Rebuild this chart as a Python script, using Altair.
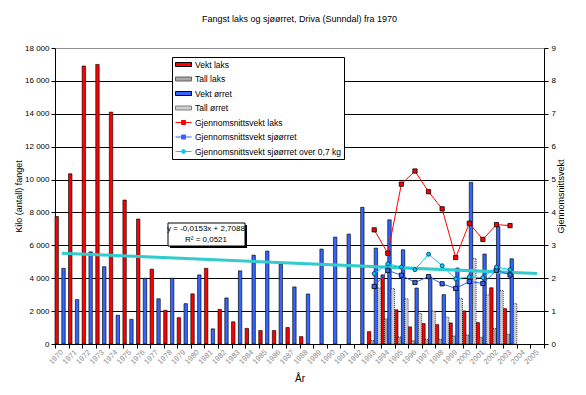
import altair as alt
import pandas as pd

FONT = "Liberation Sans"

years = list(range(1970, 2006))
vekt_laks = [7750, 10350, 16900, 17000, 14100, 8750, 7600, 4550, 2050, 1600,
             3050, 4600, 2100, 1350, 950, 820, 820, 1000, 450, None,
             None, None, None, 750, 4200, 2080, 1040, 1240, 1180, 1280,
             2010, 1300, 3420, 2150, None, None]
vekt_orret = [4600, 2700, 5600, 4700, 1750, 1500, 4000, 2750, 4000, 2450,
              4200, 920, 2800, 4450, 5400, 5650, 4860, 3470, 3040, 5770,
              6500, 6680, 8310, 5830, 7550, 5730, 3400, 4070, 3000, 4620,
              9830, 5470, 7140, 5180, None, None]
tall_years = list(range(1993, 2004))
tall_laks = [210, 1530, 430, 200, 270, 290, 490, 550, 410, 940, 600]
tall_orret = [3400, 3380, 2750, 1850, 2000, 1630, 2780, 5200, 2980, 3250, 2460]
snitt_laks = [3.47, 2.76, 4.86, 5.26, 4.63, 4.11, 2.63, 3.67, 3.18, 3.63, 3.60]
snitt_orret = [1.75, 2.24, 2.09, 1.87, 2.05, 1.83, 1.69, 1.90, 1.84, 2.24, 2.10]
snitt_orret_07 = [2.14, 2.44, 2.34, 2.26, 2.73, 2.38, 1.98, 2.04, 2.02, 2.34, 2.26]

bar_series = ["Vekt laks", "Tall laks", "Vekt ørret", "Tall ørret"]
line_series = ["Gjennomsnittsvekt laks", "Gjennomsnittsvekt sjøørret",
               "Gjennomsnittsvekt sjøørret over 0,7 kg"]
all_series = bar_series + line_series
bar_colors = ["#ff0000", "#a8a8a8", "#3366ff", "#cfcfcf"]
line_colors = ["#ff0000", "#3366ff", "#00ccff"]
fill_colors = bar_colors + line_colors
stroke_colors = ["#000000", "#606060", "#000000", "#808080", "#ff0000", "#3366ff", "#00ccff"]
legend_shapes = [
    "M-1,-0.5H3V0.5H-1Z",
    "M-1,-0.5H3V0.5H-1Z",
    "M-1,-0.5H3V0.5H-1Z",
    "M-1,-0.5H3V0.5H-1Z",
    "M-1,0H3M0.5,-0.5H1.5V0.5H0.5Z",
    "M-1,0H3M0.5,-0.5H1.5V0.5H0.5Z",
    "M-1,0H3M0.5,0A0.5,0.5,0,1,1,1.5,0A0.5,0.5,0,1,1,0.5,0Z",
]
equation_lines = ["y = -0,0153x + 2,7088", "R² = 0,0521"]

# ---- tables ----
bar_rows = []
for y, v in zip(years, vekt_laks):
    if v is not None:
        bar_rows.append({"year": y, "series": "Vekt laks", "value": v})
for y, v in zip(tall_years, tall_laks):
    bar_rows.append({"year": y, "series": "Tall laks", "value": v})
for y, v in zip(years, vekt_orret):
    if v is not None:
        bar_rows.append({"year": y, "series": "Vekt ørret", "value": v})
for y, v in zip(tall_years, tall_orret):
    bar_rows.append({"year": y, "series": "Tall ørret", "value": v})
bars_df = pd.DataFrame(bar_rows)

line_rows = []
for name, vals in zip(line_series, [snitt_laks, snitt_orret, snitt_orret_07]):
    for y, v in zip(tall_years, vals):
        line_rows.append({"year": y, "series": name, "value": v})
line_df = pd.DataFrame(line_rows)

# colour scale for the marks: domain ordered differently from the legend's scales
# so that Vega-Lite does not merge the (hidden) colour legend with the visible one
color_scale = alt.Scale(domain=line_series + bar_series, range=line_colors + bar_colors)
idx_scale = alt.Scale(domain=[0.5, 36.5], nice=False, zero=False)
right_scale = alt.Scale(domain=[0, 9], nice=False)

# ---- bars ----
bars = alt.Chart(bars_df).mark_bar(stroke="black", strokeWidth=0.7).encode(
    x=alt.X("year:O", scale=alt.Scale(domain=years, paddingInner=0, paddingOuter=0),
            title="År",
            axis=alt.Axis(labelAngle=315, labelAlign="right", labelBaseline="middle",
                          labelColor="#8c8c8c", labelFontSize=7.5, labelPadding=3,
                          tickBand="extent", tickSize=4, tickColor="black",
                          domainColor="black", titleFontSize=10, titleFontWeight="normal",
                          titlePadding=8, grid=False)),
    xOffset=alt.XOffset("series:N", scale=alt.Scale(domain=bar_series, paddingInner=0, paddingOuter=0)),
    y=alt.Y("value:Q", scale=alt.Scale(domain=[0, 18000], nice=False),
            title="Kilo (antall) fanget",
            axis=alt.Axis(orient="left", values=list(range(0, 18001, 2000)),
                          labelExpr="replace(format(datum.value, ','), ',', ' ')",
                          grid=True,
                          gridColor={"condition": {"test": "datum.value === 18000", "value": "#909090"}, "value": "black"},
                          gridWidth=1, tickSize=4, tickColor="black", domainColor="black",
                          labelFontSize=8, labelPadding=2, titleFontSize=9,
                          titleFontWeight="normal", titlePadding=1)),
    color=alt.Color("series:N", scale=color_scale, legend=None),
    strokeDash=alt.condition("indexof(datum.series, 'Tall') === 0", alt.value([1, 1]), alt.value([1, 0])),
)

# ---- trend (linear regression of the >0,7 kg series, extended over all years) ----
trend = alt.Chart(line_df).transform_filter(
    alt.datum.series == line_series[2]
).transform_calculate(
    idx="datum.year - 1969"
).transform_regression(
    "idx", "value", method="linear", extent=[1, 36]
).mark_line(color="#33cccc", strokeWidth=3).encode(
    x=alt.X("idx:Q", scale=idx_scale, axis=None),
    y=alt.Y("value:Q", scale=right_scale, axis=None),
)

# ---- lines ----
lines = alt.Chart(line_df).transform_calculate(
    idx="datum.year - 1969"
).mark_line(strokeWidth=1).encode(
    x=alt.X("idx:Q", scale=idx_scale, axis=None),
    y=alt.Y("value:Q", scale=right_scale, title="Gjennomsnittsvekt",
            axis=alt.Axis(orient="right", values=list(range(10)), grid=False,
                          tickSize=4, tickColor="black", domainColor="black",
                          labelFontSize=8, labelPadding=3, titleFontSize=9,
                          titleFontWeight="normal", titleAngle=270, titlePadding=10)),
    color=alt.Color("series:N", scale=color_scale, legend=None),
)

pts_sq = alt.Chart(line_df).transform_filter(
    alt.FieldOneOfPredicate(field="series", oneOf=line_series[:2])
).transform_calculate(
    idx="datum.year - 1969"
).mark_point(shape="square", filled=True, size=18, stroke="black", strokeWidth=0.8, opacity=1).encode(
    x=alt.X("idx:Q", scale=idx_scale, axis=None),
    y=alt.Y("value:Q", scale=right_scale, axis=None),
    color=alt.Color("series:N", scale=color_scale, legend=None),
)

pts_ci = alt.Chart(line_df).transform_filter(
    alt.datum.series == line_series[2]
).transform_calculate(
    idx="datum.year - 1969"
).mark_point(shape="circle", filled=True, size=16, stroke="#003050", strokeWidth=0.8, opacity=1).encode(
    x=alt.X("idx:Q", scale=idx_scale, axis=None),
    y=alt.Y("value:Q", scale=right_scale, axis=None),
    color=alt.Color("series:N", scale=color_scale, legend=None),
)

# ---- equation box ----
one = pd.DataFrame({"a": [0]})
ann_shadow = alt.Chart(one).mark_rect(fill="black").encode(
    x=alt.value(115), x2=alt.value(192), y=alt.value(177), y2=alt.value(200))
ann_box = alt.Chart(one).mark_rect(fill="white", stroke="black", strokeWidth=1).encode(
    x=alt.value(113), x2=alt.value(190), y=alt.value(175), y2=alt.value(198))
ann_text = alt.Chart(one).mark_text(text=equation_lines, font=FONT, fontSize=8,
                                     lineHeight=11, align="center", baseline="middle").encode(
    x=alt.value(151), y=alt.value(181))

# ---- legend (symbols only; the marks themselves are invisible) ----
leg = alt.Legend(title=None, orient="none", legendX=117, legendY=9,
                 fillColor="white", strokeColor="black", padding=3,
                 symbolSize=64, labelFontSize=8.5, rowPadding=5.5, labelOffset=11)
legend_layer = alt.Chart(pd.DataFrame({"series": all_series})).mark_point(
    filled=True, size=0, opacity=1
).encode(
    fill=alt.Fill("series:N", scale=alt.Scale(domain=all_series, range=fill_colors), legend=leg),
    stroke=alt.Stroke("series:N", scale=alt.Scale(domain=all_series, range=stroke_colors), legend=leg),
    shape=alt.Shape("series:N", scale=alt.Scale(domain=all_series, range=legend_shapes), legend=leg),
)

chart = alt.layer(
    bars, trend, lines, pts_sq, pts_ci, ann_shadow, ann_box, ann_text, legend_layer
).resolve_scale(
    x="independent", y="independent"
).properties(
    width=489, height=296,
    title=alt.Title("Fangst laks og sjøørret, Driva (Sunndal) fra 1970",
                    fontSize=9, fontWeight="normal", font=FONT, anchor="middle", offset=20),
    padding={"left": 47, "top": 40, "right": 34, "bottom": 43},
    autosize=alt.AutoSizeParams(type="none"),
).configure_view(
    stroke=None
).configure_axis(
    labelFont=FONT, titleFont=FONT, labelColor="black", titleColor="black",
    titleFontWeight="normal"
).configure_legend(
    labelFont=FONT, symbolStrokeWidth=1
)

chart.save("out.html", embed_options={"renderer": "svg", "actions": False})
